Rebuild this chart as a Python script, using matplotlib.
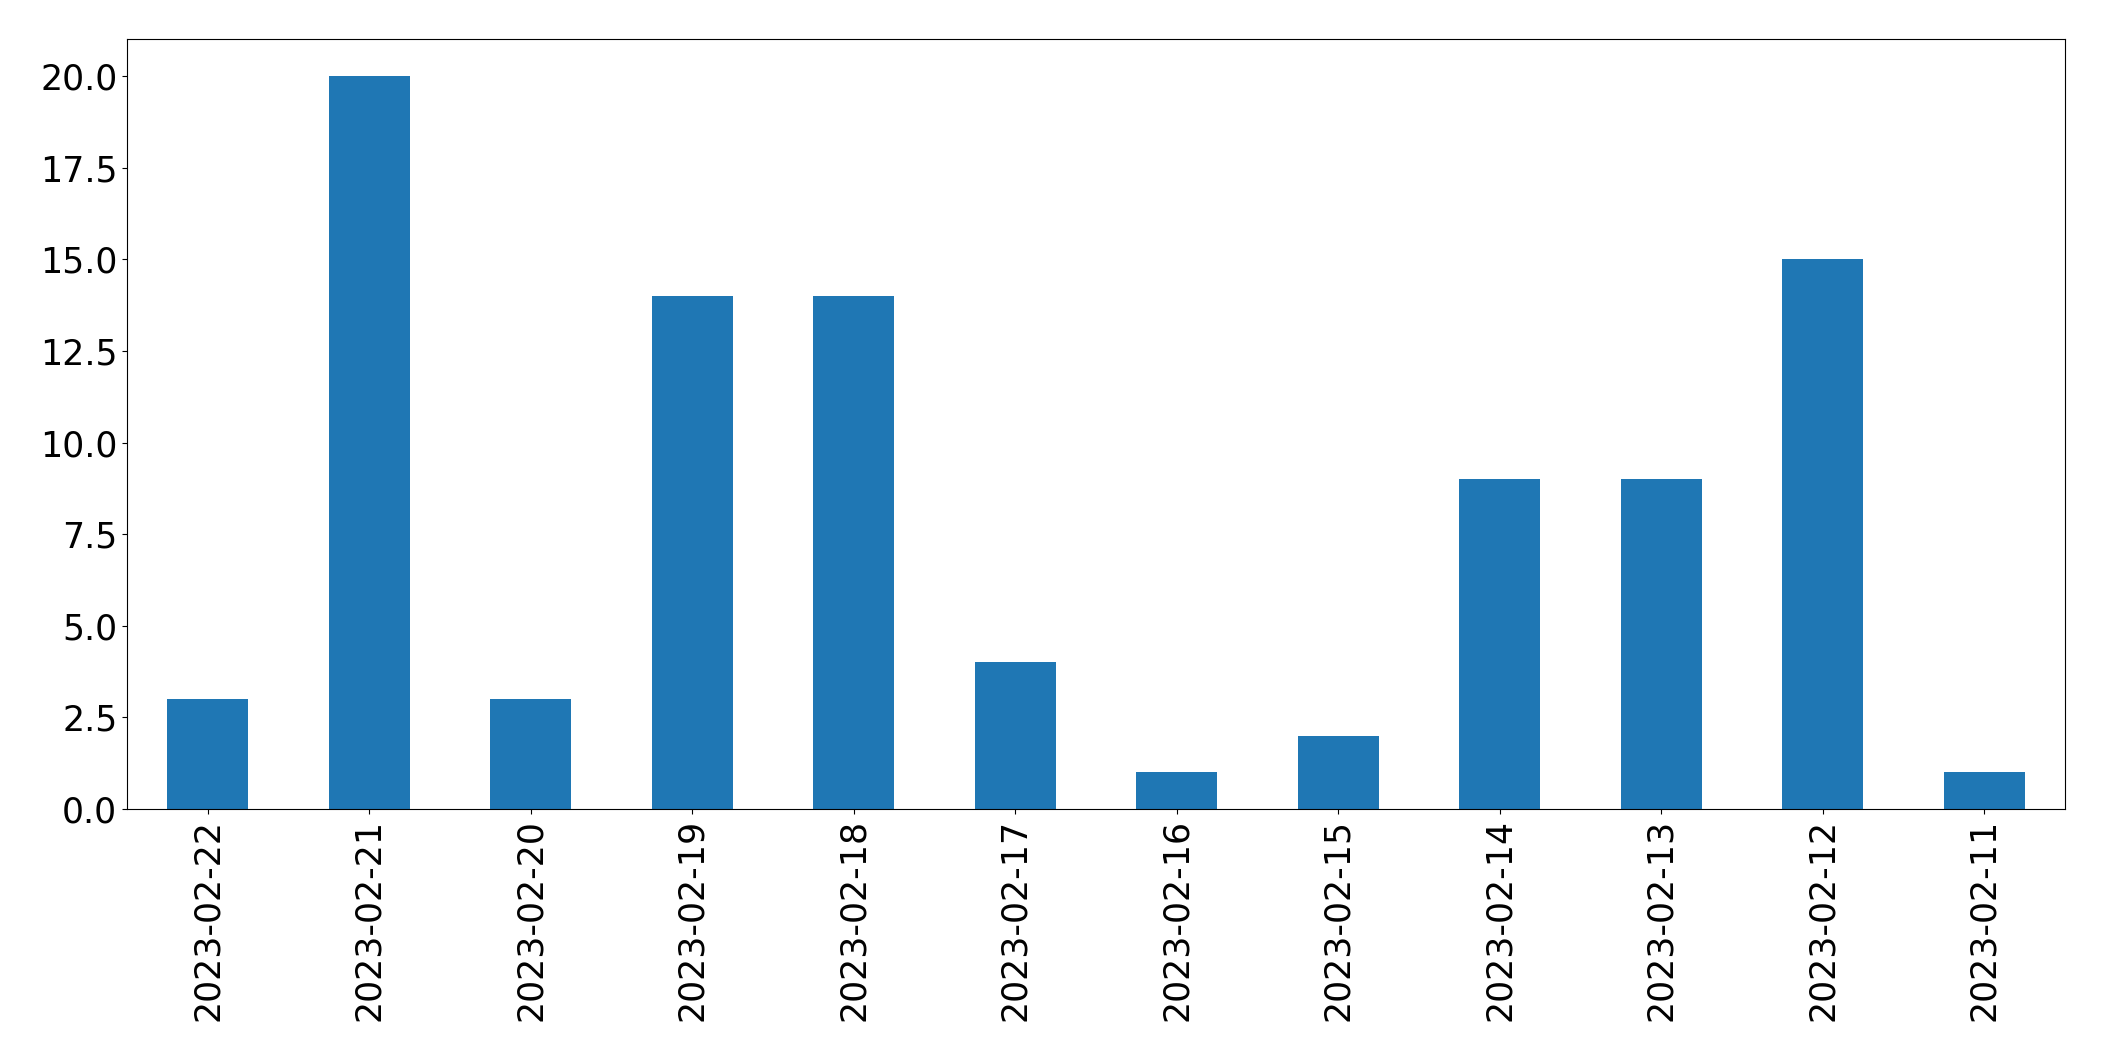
import matplotlib
matplotlib.use("Agg")
import matplotlib.pyplot as plt
import pandas as pd

# Counts per day (newest first, as in the reference)
dates = ["2023-02-22", "2023-02-21", "2023-02-20", "2023-02-19",
         "2023-02-18", "2023-02-17", "2023-02-16", "2023-02-15",
         "2023-02-14", "2023-02-13", "2023-02-12", "2023-02-11"]
counts = [3, 20, 3, 14, 14, 4, 1, 2, 9, 9, 15, 1]
yticks = [0, 2.5, 5, 7.5, 10, 12.5, 15, 17.5, 20]

series = pd.Series(counts, index=dates)

fig = plt.figure(figsize=(21.04, 10.61), dpi=100)
ax = fig.add_axes([0.0604, 0.2375, 0.9211, 0.7253])

series.plot(kind="bar", ax=ax, color="#1f77b4", width=0.5)
ax.set_yticks(yticks)
ax.set_yticklabels([f"{v:.1f}" for v in yticks])
ax.tick_params(axis="both", labelsize=25)

fig.savefig("out.png", dpi=100)
